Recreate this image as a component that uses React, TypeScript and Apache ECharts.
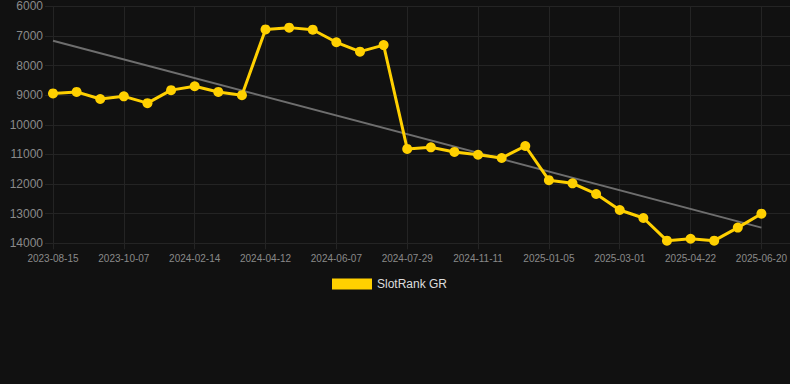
import React, { useEffect, useRef } from "react";
import * as echarts from "echarts";

const categories: string[] = [
  "2023-08-15", "2023-09-02", "2023-09-20", "2023-10-07", "2023-11-19", "2023-12-31",
  "2024-02-14", "2024-03-04", "2024-03-23", "2024-04-12", "2024-04-30", "2024-05-19",
  "2024-06-07", "2024-06-24", "2024-07-12", "2024-07-29", "2024-09-02", "2024-10-07",
  "2024-11-11", "2024-11-29", "2024-12-17", "2025-01-05", "2025-01-23", "2025-02-10",
  "2025-03-01", "2025-03-18", "2025-04-04", "2025-04-22", "2025-05-11", "2025-05-31",
  "2025-06-20",
];

const rankValues: number[] = [
  8940, 8890, 9130, 9040, 9270, 8830, 8700, 8890, 9000, 6780, 6720, 6790,
  7215, 7530, 7310, 10815, 10760, 10915, 11010, 11120, 10715, 11870, 11975,
  12335, 12875, 13145, 13910, 13845, 13910, 13470, 13000,
];

const trendStart = 7160;
const trendEnd = 13470;

const yTicks = { min: 6000, max: 14000, interval: 1000 };

const seriesName = "SlotRank GR";

export default function App() {
  const ref = useRef<HTMLDivElement>(null);

  useEffect(() => {
    if (!ref.current) return;
    const chart = echarts.init(ref.current, undefined, { renderer: "svg" });
    const font = "Liberation Sans, Arial, Helvetica, sans-serif";
    const gridColor = "#242424";
    const labelColor = "#8a8a8a";
    chart.setOption({
      animation: false,
      backgroundColor: "#111111",
      textStyle: { fontFamily: font },
      grid: [
        { left: 53, right: 28, top: 6.3, bottom: 140.7, containLabel: false },
        { left: 45, right: 0, top: 6.3, bottom: 140.7, containLabel: false },
      ],
      legend: {
        data: [seriesName],
        top: 273,
        left: 327,
        icon: "rect",
        itemWidth: 40,
        itemHeight: 11,
        textStyle: { color: "#dddddd", fontSize: 12, fontFamily: font },
      },
      xAxis: [
        {
          type: "category",
          gridIndex: 0,
          data: categories,
          boundaryGap: false,
          axisLine: { show: false },
          axisTick: {
            show: true,
            interval: 2,
            length: 6,
            lineStyle: { color: gridColor },
          },
          axisLabel: {
            interval: 2,
            color: labelColor,
            fontSize: 10,
            margin: 10,
            fontFamily: font,
          },
          splitLine: {
            show: true,
            interval: 2,
            lineStyle: { color: gridColor, width: 1 },
          },
        },
        {
          type: "value",
          gridIndex: 1,
          min: 0,
          max: 1,
          show: false,
        },
      ],
      yAxis: [
        {
          type: "value",
          gridIndex: 0,
          inverse: true,
          min: yTicks.min,
          max: yTicks.max,
          interval: yTicks.interval,
          axisLine: { show: false },
          axisTick: { show: false },
          splitLine: { show: false },
          axisLabel: {
            color: labelColor,
            fontSize: 12,
            margin: 10,
            fontFamily: font,
            formatter: (v: number) => String(v),
          },
        },
        {
          type: "value",
          gridIndex: 1,
          inverse: true,
          min: yTicks.min,
          max: yTicks.max,
          interval: yTicks.interval,
          axisLine: { show: false },
          axisTick: { show: false },
          axisLabel: { show: false },
          splitLine: { show: true, lineStyle: { color: gridColor, width: 1 } },
        },
      ],
      series: [
        {
          name: "trend",
          type: "line",
          xAxisIndex: 0,
          yAxisIndex: 0,
          data: [
            [categories[0], trendStart],
            [categories[categories.length - 1], trendEnd],
          ],
          symbol: "none",
          lineStyle: { color: "#6e6e6e", width: 2 },
          itemStyle: { color: "#6e6e6e" },
          z: 2,
          silent: true,
        },
        {
          name: seriesName,
          type: "line",
          xAxisIndex: 0,
          yAxisIndex: 0,
          data: rankValues,
          symbol: "circle",
          symbolSize: 10,
          showSymbol: true,
          lineStyle: { color: "#FFD000", width: 3 },
          itemStyle: { color: "#FFD000" },
          z: 3,
        },
      ],
    });
    return () => chart.dispose();
  }, []);

  return (
    <div
      ref={ref}
      style={{ position: "fixed", left: 0, top: 0, width: 790, height: 384 }}
    />
  );
}
